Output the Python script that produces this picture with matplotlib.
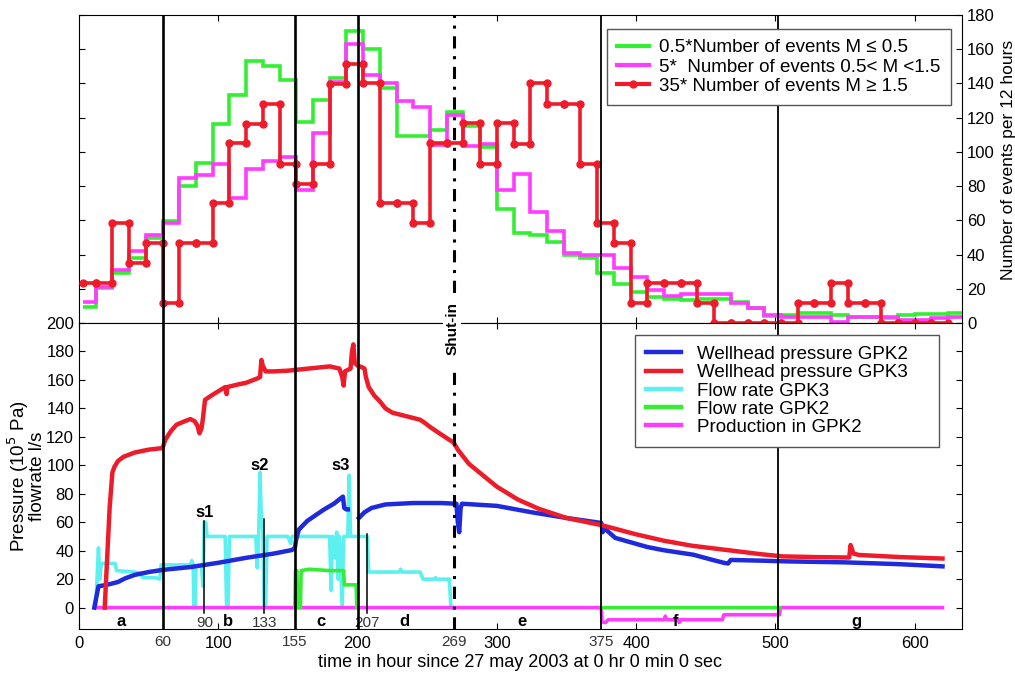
import numpy as np
import matplotlib
matplotlib.use("Agg")
import matplotlib.pyplot as plt

plt.rcParams['font.family'] = ['Liberation Sans', 'DejaVu Sans']

# ---------------- top panel data (events per 12 hours) ----------------
bin_edges = [3] + list(range(12, 637, 12))          # 12-hour bins
red_vals = [23.2, 23.2, 58.6, 35, 46.9, 11.4, 46.9, 46.9, 70, 105, 116.3, 127.8, 92.9,
            81.2, 92.9, 139.7, 151.4, 140, 70, 70, 58.3, 105, 105, 116.7, 92.9, 116.7,
            104.6, 140, 128, 128, 92.9, 58.3, 46.6, 11.5, 23.2, 23.2, 23.2, 11.5, 0, 0,
            0, 0, 0, 11.5, 11.5, 23.2, 11.5, 11.5, 0, 0, 0, 0]
green_vals = [9.2, 20.3, 29, 38, 49.5, 59.6, 80, 93.3, 116.3, 133.3, 153, 150, 142,
              117.7, 130.4, 143, 170.8, 159.9, 137.2, 109, 109.3, 112.8, 123.5, 115,
              103, 66.4, 52.4, 51.4, 47.5, 39.7, 37.8, 29, 22.8, 18.3, 15.4, 13.9, 13.4,
              13.9, 13.9, 12.3, 8.6, 4.1, 4.7, 5.6, 6, 4.7, 3.7, 3.3, 2.7, 4.7, 5.3,
              5.3, 5.6]
magenta_vals = [12.5, 21, 31, 42, 51.4, 58.4, 85, 86.5, 92.9, 72.9, 89.8, 94.9, 96.8,
                78, 111.2, 141, 163, 145, 140, 129.9, 126, 104, 121.6, 103.4, 104.6,
                78, 87, 65, 53.8, 40.8, 39.7, 39.7, 31.9, 26.6, 19.3, 15.8, 16.8, 16.8,
                16.8, 11.5, 8.6, 4.7, 3.7, 3.7, 3.7, 0.6, 3.4, 3.3, 3.3, 1.6, 1.6, 2.7,
                3.7]
green_edges = bin_edges[:len(green_vals)] + [634]
red_edges = bin_edges[:len(red_vals) + 1]

# ---------------- bottom panel data ----------------
gpk3_t = [18.5, 20, 22, 24, 25.5, 28, 32, 40, 50, 59, 60, 62, 66, 70, 76, 80, 83, 85,
          86.5, 88, 89, 90.5, 95, 100, 105, 106, 106.5, 115, 120, 128, 130, 131, 132,
          134, 140, 150, 160, 170, 180, 187, 189, 190, 191, 195, 196, 197, 198, 200,
          203, 205, 206, 208, 212, 216, 220, 225, 235, 245, 248, 252, 258, 265, 269,
          272, 280, 290, 300, 315, 330, 350, 375, 400, 420, 440, 465, 490, 505, 530,
          553, 554, 556, 560, 590, 620]
gpk3_p = [0, 30, 70, 95, 99, 103, 106, 109, 111, 112, 112, 118, 124, 128.5, 131, 132.5,
          131, 128, 122.5, 126, 133, 146, 149, 152, 155, 150, 155, 157, 158, 161, 162,
          174, 170, 166, 166, 166.5, 167.5, 168.5, 169.5, 168, 162, 156, 166, 168, 180,
          185, 172, 170, 169, 168, 162, 155, 149, 145, 140, 137, 134.5, 132, 130, 127,
          123, 118.5, 116, 111, 101, 93, 85, 76, 69.5, 63, 58, 51.5, 47, 43.5, 40.5,
          37.5, 36, 35.5, 35.2, 44, 38, 37, 35.5, 34.5]

gpk2_t = [11, 12, 14, 20, 28, 33, 40, 50, 60, 80, 100, 120, 140, 153, 155, 156, 157,
          158, 164, 170, 176, 183, 189.5, 190.5, 192, 193, np.nan, 201, 205, 210, 220,
          240, 260, 271, 272, 273, 274, 275, 300, 325, 350, 375, 376, 377, 385, 408,
          420, 441, 455, 463, 466, 468, 490, 508, 550, 590, 620]
gpk2_p = [0, 5, 15, 16, 18, 20.5, 23, 25, 26.5, 28.5, 31.5, 35, 38, 40.5, 42, 48, 52,
          55, 61, 65, 69, 73, 78, 70, 69, 69, np.nan, 63, 67, 70, 72.5, 73.5, 73.5, 73,
          60, 53, 70, 73, 71.5, 67, 63, 59.5, 53, 56, 49, 42.6, 40.3, 37.2, 33.5, 31.5,
          31, 33.5, 33, 32.5, 31.8, 30.5, 29]

flow3_t = [12, 13, 14, 15, 16, 26, 27, 40, 44, 46, 55, 58, 59, 80, 81, 82, 82.5, 83.5,
           84, 88, 89, 90, 91, 92, 105, 106, 107, 108, 127, 128, 129, 130, 131, 132, 133,
           134, 135, 150, 152, 153, 180, 181, 182, 184, 185, 186, 187, 189, 190, 193,
           194, 195, 207, 208, 230, 231, 232, 245, 247, 255, 256, 257, 266, 267, 268]
flow3_q = [0, 20, 42, 20, 31, 31, 26, 25, 24, 21, 21, 20, 30, 30, 33, 30, 0, 0, 29, 29,
           15, 60, 60, 50, 50, 0, 0, 50, 50, 28, 50, 95, 60, 55, 0, 0, 50, 50, 45, 50, 50,
           12, 50, 35, 53, 20, 50, 0, 50, 50, 93, 50, 50, 25, 25, 27, 25, 25, 20, 20, 21,
           20, 20, 0, 0]

flow2_t = [155, 155.5, 156.5, 157, 159, 159.5, 165, 180, 190, 190.5, 199, 199.5, np.nan,
           375, 503]
flow2_q = [0, 26, 26, 0, 0, 26, 27, 26, 26, 16, 16, 0, np.nan, 0, 0]

prod_t = [12, 375, 375.5, 378, 380, 400, 420, 421, 422, 430, 431, 432, 462, 463, 503,
          503.5, 620]
prod_q = [0, 0, -10, -10.5, -8.5, -8.5, -8.5, -6, -8.5, -8.5, -10.5, -8.5, -8.5, -5,
          -5, 0, 0]

phase_times = [60, 155, 200, 375, 502]
shut_in = 269
stim_times = [90, 133, 207]
stim_tops = [61, 62, 52]
phase_letters = ['a', 'b', 'c', 'd', 'e', 'f', 'g']
letter_pos = [30, 107, 174, 234, 318, 428, 558]

C_GREEN = '#33EE33'
C_MAG = '#FF3CFF'
C_RED = '#EE1C2A'
C_BLUE = '#1E2ADC'
C_CYAN = '#5CF0F0'

fig = plt.figure(figsize=(10.15, 6.81), dpi=100)
axt = fig.add_axes([0.0778, 0.5257, 0.870, 0.4523])
axb = fig.add_axes([0.0778, 0.0764, 0.870, 0.4493])
XMAX = 634

# ---------------- top panel ----------------
axt.stairs(green_vals, green_edges, color=C_GREEN, lw=2.6, baseline=None,
           label=r'0.5*Number of events M ≤ 0.5')
axt.stairs(magenta_vals, green_edges, color=C_MAG, lw=2.6, baseline=None,
           label=r'5*  Number of events 0.5< M <1.5')
rx = np.repeat(red_edges, 2)[1:-1]
ry = np.repeat(red_vals, 2)
axt.plot(rx, ry, '-o', color=C_RED, lw=2.6, ms=5, clip_on=False, zorder=4,
         label=r'35* Number of events M ≥ 1.5')
axt.set_xlim(0, XMAX)
axt.set_ylim(0, 180)
axt.yaxis.tick_right()
axt.yaxis.set_label_position('right')
axt.set_yticks(range(0, 181, 20))
axt.set_xticks(range(100, 601, 100))
axt.tick_params(axis='both', direction='in', length=4, labelsize=12,
                left=True, right=True, top=True, bottom=True,
                labelbottom=False, labelleft=False, labelright=True)
axt.set_ylabel('Number of events per 12 hours', fontsize=12.5)
axt.yaxis.set_label_coords(1.044, 0.53)
leg1 = axt.legend(loc='upper left', bbox_to_anchor=(0.598, 0.0, 0.3896, 0.955),
                  mode='expand', fontsize=13.5,
                  frameon=True, fancybox=False, edgecolor='#555555', framealpha=1,
                  handlelength=1.7, handletextpad=0.5, labelspacing=0.12,
                  borderpad=0.55, numpoints=1, borderaxespad=0)
leg1.get_frame().set_linewidth(1.0)
for h in leg1.get_lines():
    h.set_linewidth(3)

# ---------------- bottom panel ----------------
axb.plot(flow3_t, flow3_q, color=C_CYAN, lw=2.6, label='Flow rate GPK3', zorder=2)
axb.plot(flow2_t, flow2_q, color=C_GREEN, lw=2.6, label='Flow rate GPK2', zorder=2.2)
axb.plot(prod_t, prod_q, color=C_MAG, lw=2.6, label='Production in GPK2', zorder=2.1)
axb.plot(gpk2_t, gpk2_p, color=C_BLUE, lw=3.2, label='Wellhead pressure GPK2', zorder=3)
axb.plot(gpk3_t, gpk3_p, color=C_RED, lw=3.2, label='Wellhead pressure GPK3', zorder=3.1)
axb.set_xlim(0, XMAX)
axb.set_ylim(-15, 200)
axb.set_yticks(range(0, 201, 20))
axb.set_xticks(range(0, 601, 100))
axb.tick_params(axis='both', direction='in', length=4, labelsize=12,
                left=True, right=True, top=True, bottom=True)
axb.tick_params(axis='x', pad=5)
axb.set_ylabel('Pressure (10$^5$ Pa)\nflowrate l/s', fontsize=13.5, linespacing=0.85,
               labelpad=0)
axb.set_xlabel('time in hour since 27 may 2003 at 0 hr 0 min 0 sec', fontsize=13,
               labelpad=2)
handles, labels = axb.get_legend_handles_labels()
order = [3, 4, 0, 1, 2]
leg2 = axb.legend([handles[i] for i in order], [labels[i] for i in order],
                  loc='upper left', bbox_to_anchor=(0.6297, 0.0, 0.3443, 0.962),
                  mode='expand', fontsize=13.5,
                  frameon=True, fancybox=False, edgecolor='#555555', framealpha=1,
                  handlelength=1.85, handletextpad=0.85, labelspacing=0.06,
                  borderpad=0.6, borderaxespad=0)
leg2.get_frame().set_linewidth(1.0)
for h in leg2.get_lines():
    h.set_linewidth(3.2)

# vertical phase lines
for ax in (axt, axb):
    for i, t in enumerate(phase_times):
        ax.axvline(t, color='black', lw=1.9 if t < 300 else 1.3, zorder=5)
axt.axvline(shut_in, color='black', lw=2.2, ls=(0, (4, 2.5, 1, 2.5)), zorder=5)
axb.axvline(shut_in, ymin=0, ymax=0.86, color='black', lw=2.2,
            ls=(0, (4, 2.5, 1, 2.5)), zorder=5)

# stimulation markers
for t, top, s in zip(stim_times, stim_tops, ['s1', 's2', 's3']):
    axb.plot([t, t], [-4, top], color='black', lw=1.1, zorder=6)
    axb.text(t, -11, str(t), ha='center', va='center', fontsize=11, color='#333333')
axb.text(90, 67, 's1', ha='center', va='center', fontsize=12, fontweight='bold')
axb.text(130, 100, 's2', ha='center', va='center', fontsize=12, fontweight='bold')
axb.text(188, 100, 's3', ha='center', va='center', fontsize=12, fontweight='bold')

for L, t in zip(phase_letters, letter_pos):
    axb.text(t, -10, L, ha='center', va='center', fontsize=12, fontweight='bold')

# extra x labels for phase boundaries
for t in [60, 155, 269, 375]:
    axb.text(t, -19.5, str(t), ha='center', va='top', fontsize=11, color='#333333',
             clip_on=False)

axb.text(shut_in - 1, 196, 'Shut-in', rotation=90, ha='center', va='center',
         fontsize=11, fontweight='bold', clip_on=False, zorder=10,
         bbox=dict(facecolor='white', edgecolor='none', pad=1.5))

fig.savefig('out.png', dpi=100)
